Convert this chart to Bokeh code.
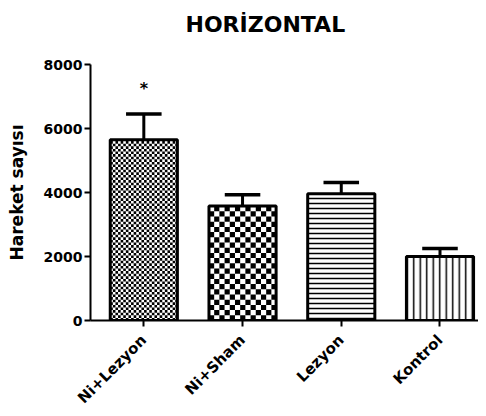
import numpy as np
from bokeh.plotting import figure
from bokeh.models import Range1d, FixedTicker, Title
from bokeh.core.properties import value
from bokeh.embed import file_html
from bokeh.resources import INLINE

categories = ["Ni+Lezyon", "Ni+Sham", "Lezyon", "Kontrol"]
means = [5650, 3580, 3960, 2000]
sems = [800, 350, 350, 250]
patterns = ["checker", "checker", "horizontal_line", "vertical_line"]
y_ticks = [0, 2000, 4000, 6000, 8000]
title_text = "HORİZONTAL"
y_label = "Hareket sayısı"

# pattern styling (pixels)
cell_px = [2.6, 5.2, 5, 6.5]

FONT = "DejaVu Sans"
X0, X1 = -0.54, 3.39
Y0, Y1 = 0, 8000
FRAME_W, FRAME_H = 388, 256
BAR_W = 0.68
px_x = FRAME_W / (X1 - X0)   # pixels per x unit
px_y = FRAME_H / (Y1 - Y0)   # pixels per y unit

xs = list(range(len(categories)))
tops = [m + s for m, s in zip(means, sems)]

p = figure(width=478, height=416, output_backend="svg", toolbar_location=None,
           x_range=Range1d(X0, X1), y_range=Range1d(Y0, Y1),
           min_border_left=90, min_border_right=0, min_border_top=64, min_border_bottom=96,
           title=None)
p.outline_line_color = None
p.grid.visible = False
p.background_fill_color = "white"

spacer = Title(text=" ", text_font_size="2px", standoff=12)
main_title = Title(text=title_text, text_font=FONT, text_font_size="22px",
                   text_font_style="bold", text_color="black", align="left", offset=95,
                   vertical_align="top", standoff=20)
p.add_layout(spacer, "above")
p.add_layout(main_title, "above")

# bar backgrounds
p.vbar(x=xs, top=means, bottom=0, width=BAR_W, fill_color="white", line_color=None)

# fill textures
for i in range(len(categories)):
    if patterns[i] == "checker":
        cw = cell_px[i] / px_x
        ch = cell_px[i] / px_y
        left0 = xs[i] - BAR_W / 2
        ncol = int(np.ceil(BAR_W / cw))
        nrow = int(np.ceil(means[i] / ch))
        L, R, B, T = [], [], [], []
        for r in range(nrow):
            for c in range(ncol):
                if (r + c) % 2 == 0:
                    l = left0 + c * cw
                    b = r * ch
                    L.append(l)
                    R.append(min(l + cw, left0 + BAR_W))
                    B.append(b)
                    T.append(min(b + ch, means[i]))
        p.quad(left=L, right=R, bottom=B, top=T, fill_color="black", line_color=None)
    else:
        p.vbar(x=[xs[i]], top=[means[i]], bottom=0, width=BAR_W, fill_alpha=0,
               line_color=None, hatch_pattern=value(patterns[i]), hatch_scale=cell_px[i],
               hatch_color="black", hatch_weight=1.5)

# bar outlines
p.vbar(x=xs, top=means, bottom=0, width=BAR_W, fill_alpha=0, line_color="black",
       line_width=3)

# error bars (upper only)
p.segment(x0=xs, y0=means, x1=xs, y1=tops, line_color="black", line_width=3)
p.segment(x0=[x - 0.18 for x in xs], y0=tops, x1=[x + 0.18 for x in xs], y1=tops,
          line_color="black", line_width=3.5)

# significance marker
p.text(x=[xs[0]], y=[tops[0] + 800], text=["*"], text_align="center",
       text_baseline="alphabetic", text_font=value(FONT), text_font_size="16px",
       text_font_style="bold", text_color="black")

# axes
p.xaxis.ticker = FixedTicker(ticks=xs)
p.xaxis.major_label_overrides = {i: c for i, c in enumerate(categories)}
p.xaxis.major_label_orientation = np.pi / 4
p.yaxis.ticker = FixedTicker(ticks=y_ticks)
p.yaxis.axis_label = y_label

for ax in (p.xaxis[0], p.yaxis[0]):
    ax.axis_line_width = 2
    ax.axis_line_color = "black"
    ax.major_tick_line_width = 2
    ax.major_tick_line_color = "black"
    ax.major_tick_in = 0
    ax.major_tick_out = 6
    ax.minor_tick_line_color = None
    ax.major_label_text_font = FONT
    ax.major_label_text_font_style = "bold"
    ax.major_label_text_color = "black"

p.xaxis.major_label_text_font_size = "15px"
p.xaxis.major_label_standoff = 11
p.yaxis.major_label_text_font_size = "14px"
p.yaxis.major_label_standoff = 2
p.yaxis.axis_label_text_font = FONT
p.yaxis.axis_label_text_font_size = "17px"
p.yaxis.axis_label_text_font_style = "bold"
p.yaxis.axis_label_text_color = "black"
p.yaxis.axis_label_standoff = 14

open("out.html", "w").write(file_html(p, INLINE))
